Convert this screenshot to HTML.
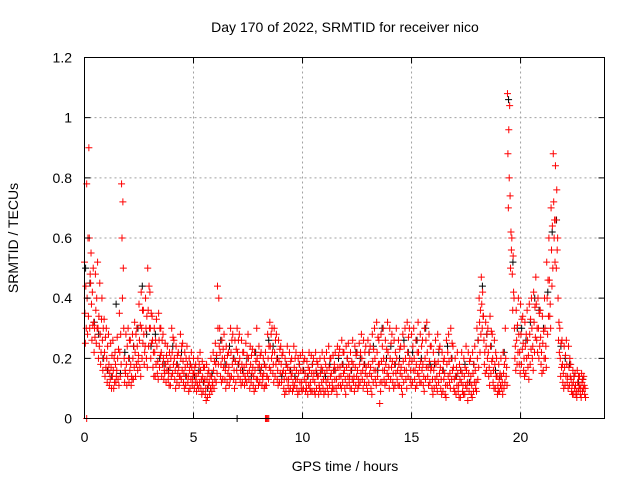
<!DOCTYPE html>
<html><head><meta charset="utf-8"><style>
body{margin:0;background:#fff}
svg text{font-family:"Liberation Sans",sans-serif;font-size:14px;fill:#000}
</style></head><body>
<svg id="chart" width="640" height="480" viewBox="0 0 640 480" xmlns="http://www.w3.org/2000/svg">
<rect width="640" height="480" fill="#fff"/>
<g id="grid"></g>
<g id="marks"></g>
<rect x="84.5" y="57.5" width="520" height="361" fill="none" stroke="#000" stroke-width="1"/>
<g id="ticks"></g>
<text x="345" y="32" text-anchor="middle">Day 170 of 2022, SRMTID for receiver nico</text>
<text x="345" y="471" text-anchor="middle">GPS time / hours</text>
<text x="18" y="238" text-anchor="middle" transform="rotate(-90 18 238)">SRMTID / TECUs</text>
</svg>
<script>
const xTicks=[0,5,10,15,20];
const yTicks=[0,0.2,0.4,0.6,0.8,1,1.2];
const yTickLabels=["0","0.2","0.4","0.6","0.8","1","1.2"];
const tStart=0, tStep=0.1, tStepBlack=0.2;
const redA=[.52,.78,.90,.55,.50,.48,.52,.45,.40,.33,.30,.28,.25,.26,.22,.27,.35,.78,.30,.28,.30,.26,.28,.32,.30,.38,.42,.36,.40,.50,.42,.34,.30,.33,.35,.30,.28,.25,.24,.22,.30,.26,.24,.22,.28,.25,.22,.24,.20,.22,.20,.18,.20,.22,.19,.17,.18,.16,.20,.22,.25,.44,.30,.26,.28,.24,.22,.30,.28,.26,.30,.28,.26,.22,.25,.28,.24,.23,.22,.30,.24,.22,.20,.22,.28,.32,.30,.30,.28,.26,.24,.22,.20,.24,.22,.20,.24,.22,.20,.21,.22,.20,.19,.22,.21,.20,.22,.18,.20,.22,.20,.22,.24,.20,.21,.22,.24,.23,.26,.22,.24,.25,.22,.26,.24,.22,.25,.28,.26,.24,.26,.24,.28,.30,.32,.26,.28,.30,.26,.32,.30,.28,.26,.30,.26,.24,.28,.30,.32,.30,.28,.30,.26,.32,.28,.26,.30,.32,.28,.24,.22,.26,.28,.24,.22,.20,.26,.28,.30,.24,.20,.22,.18,.22,.20,.24,.22,.20,.22,.24,.30,.40,.47,.34,.32,.30,.34,.28,.26,.20,.18,.20,.22,.30,1.08,1.04,.60,.40,.36,.40,.38,.34,.32,.36,.38,.40,.42,.47,.40,.36,.34,.40,.52,.60,.70,.88,.84,.60,.30,.26,.24,.26,.24,.18,.16,.15,.16,.14,.15,.14];
const redB=[.35,.40,.60,.38,.32,.36,.30,.28,.26,.22,.20,.18,.17,.16,.18,.20,.22,.60,.20,.18,.20,.18,.20,.22,.24,.26,.30,.28,.30,.36,.30,.26,.22,.24,.26,.22,.20,.18,.19,.17,.22,.20,.18,.17,.20,.19,.17,.18,.16,.17,.15,.14,.15,.16,.14,.13,.13,.12,.14,.16,.18,.30,.22,.20,.20,.18,.17,.22,.20,.19,.22,.20,.18,.17,.18,.20,.18,.17,.16,.20,.18,.17,.15,.17,.20,.24,.22,.22,.20,.19,.18,.16,.15,.17,.16,.15,.17,.16,.15,.16,.16,.15,.14,.16,.15,.15,.16,.14,.15,.16,.15,.16,.17,.15,.16,.16,.17,.17,.18,.16,.17,.18,.16,.18,.17,.16,.18,.20,.18,.17,.18,.17,.19,.20,.22,.18,.19,.20,.18,.22,.20,.19,.18,.20,.18,.17,.19,.20,.22,.20,.19,.20,.18,.22,.19,.18,.20,.22,.19,.17,.16,.18,.19,.17,.16,.15,.18,.19,.20,.17,.14,.15,.13,.15,.14,.16,.15,.14,.15,.16,.20,.32,.38,.26,.24,.22,.24,.20,.18,.14,.13,.14,.15,.20,.88,.74,.48,.30,.26,.28,.28,.25,.24,.26,.28,.30,.32,.38,.30,.27,.25,.30,.40,.46,.56,.72,.66,.40,.20,.18,.17,.18,.17,.13,.12,.11,.12,.11,.12,.11];
const redC=[.25,.28,.30,.26,.22,.25,.20,.18,.16,.14,.12,.11,.10,.10,.12,.13,.14,.40,.12,.11,.12,.11,.13,.14,.16,.17,.20,.18,.20,.24,.20,.17,.14,.15,.17,.14,.13,.12,.13,.11,.15,.13,.12,.11,.13,.12,.11,.12,.10,.11,.10,.09,.10,.10,.09,.08,.07,.08,.09,.10,.12,.18,.14,.13,.13,.12,.11,.14,.13,.12,.14,.13,.12,.11,.12,.13,.12,.11,.10,.13,.12,.11,.10,.11,.13,.16,.15,.14,.13,.12,.12,.10,.09,.11,.10,.09,.11,.10,.09,.10,.10,.09,.08,.10,.09,.09,.10,.08,.09,.10,.09,.10,.11,.09,.10,.10,.11,.11,.12,.10,.11,.12,.10,.12,.11,.10,.12,.13,.12,.11,.12,.10,.12,.13,.14,.05,.12,.13,.12,.14,.13,.12,.11,.13,.11,.10,.12,.13,.14,.13,.12,.13,.11,.14,.12,.11,.13,.14,.12,.10,.10,.11,.12,.10,.09,.08,.11,.12,.13,.10,.08,.09,.07,.09,.08,.10,.09,.08,.09,.10,.13,.22,.30,.18,.16,.14,.15,.12,.10,.08,.09,.10,.10,.14,.70,.50,.36,.20,.18,.18,.18,.16,.15,.17,.18,.20,.22,.26,.20,.18,.16,.20,.28,.34,.44,.60,.50,.26,.14,.12,.11,.12,.11,.09,.08,.08,.09,.08,.09,.08];
const redD=[.44,.60,.48,.42,.30,.40,.34,.22,.30,.27,.24,.15,.21,.20,.14,.23,.28,.72,.16,.24,.26,.14,.24,.28,.19,.31,.36,.22,.34,.44,.35,.22,.26,.19,.30,.26,.16,.21,.15,.20,.27,.16,.21,.14,.24,.15,.20,.14,.18,.13,.17,.12,.18,.13,.17,.10,.15,.14,.11,.19,.21,.40,.18,.23,.16,.21,.14,.26,.16,.23,.26,.16,.22,.14,.21,.16,.21,.14,.19,.17,.21,.14,.18,.14,.24,.28,.18,.26,.16,.23,.21,.13,.18,.13,.19,.12,.20,.13,.18,.12,.19,.12,.17,.12,.18,.12,.19,.11,.17,.13,.18,.13,.20,.12,.18,.13,.21,.14,.22,.13,.20,.14,.19,.14,.21,.13,.22,.16,.22,.14,.22,.14,.23,.16,.27,.12,.24,.16,.23,.17,.25,.15,.22,.16,.23,.14,.24,.16,.27,.16,.24,.16,.22,.17,.24,.14,.26,.17,.24,.13,.19,.14,.23,.13,.19,.11,.22,.15,.25,.13,.17,.11,.16,.11,.17,.12,.19,.11,.18,.12,.26,.36,.42,.22,.28,.17,.29,.16,.22,.11,.15,.12,.18,.17,.96,.62,.54,.24,.31,.22,.33,.20,.28,.21,.33,.24,.37,.30,.35,.22,.29,.24,.46,.38,.64,.66,.76,.32,.25,.15,.21,.14,.20,.11,.14,.09,.14,.10,.13,.10];
const redE=[.30,.34,.45,.31,.27,.30,.24,.33,.20,.17,.16,.13,.14,.12,.16,.11,.18,.50,.15,.14,.16,.13,.17,.18,.21,.14,.25,.24,.17,.30,.25,.14,.18,.13,.21,.18,.15,.16,.11,.14,.18,.10,.15,.14,.16,.10,.14,.09,.13,.15,.12,.11,.12,.08,.12,.06,.11,.10,.12,.13,.15,.24,.12,.17,.10,.15,.13,.18,.10,.16,.18,.11,.15,.13,.15,.10,.15,.09,.13,.11,.15,.13,.11,.14,.17,.20,.12,.18,.11,.15,.15,.08,.13,.09,.14,.10,.13,.08,.12,.09,.13,.10,.11,.09,.13,.08,.14,.10,.12,.08,.12,.08,.14,.10,.13,.08,.14,.10,.15,.08,.14,.10,.13,.09,.14,.11,.15,.10,.15,.09,.15,.08,.16,.11,.18,.09,.16,.11,.15,.10,.17,.10,.15,.11,.15,.08,.16,.10,.18,.11,.16,.10,.15,.12,.16,.09,.17,.11,.16,.08,.13,.09,.15,.08,.13,.07,.14,.10,.16,.09,.11,.07,.12,.08,.11,.06,.12,.07,.12,.09,.17,.28,.34,.15,.20,.11,.19,.10,.14,.09,.11,.08,.12,.11,.80,.56,.42,.16,.22,.15,.23,.14,.20,.13,.23,.16,.27,.22,.24,.15,.20,.17,.34,.30,.50,.52,.56,.22,.17,.10,.14,.10,.14,.08,.10,.07,.10,.07,.10,.07];
const black=[.50,.45,.32,.28,.20,.16,.14,.38,.15,.22,.20,.24,.30,.44,.28,.24,.28,.20,.18,.16,.24,.18,.22,.14,.18,.14,.16,.12,.10,.15,.20,.26,.18,.24,.20,.18,.16,.20,.14,.22,.16,.18,.26,.24,.20,.14,.18,.16,.14,.18,.16,.14,.18,.15,.16,.14,.18,.16,.20,.18,.20,.16,.22,.20,.18,.22,.24,.16,.30,.20,.24,.18,.20,.26,.22,.22,.26,.20,.30,.18,.18,.22,.16,.24,.20,.14,.16,.18,.12,.18,.26,.44,.28,.24,.16,.14,.22,1.06,.52,.30,.30,.26,.32,.40,.36,.30,.42,.62,.66,.24,.20,.18,.14,.12,.13];
const zeroRedTimes=[0.1,8.3,8.35,8.4,8.45];
const zeroBlackTimes=[7.0];

const X0=84.5,X1=604.5,Y0=418.5,Y1=57.5,XMAX=23.85,YMAX=1.2;
const xs=t=>X0+(t/XMAX)*(X1-X0);
const ys=v=>Y0-(v/YMAX)*(Y0-Y1);
const NS="http://www.w3.org/2000/svg";
const grid=document.getElementById('grid'),ticks=document.getElementById('ticks'),marks=document.getElementById('marks');
function mk(tag,attrs,parent){const e=document.createElementNS(NS,tag);for(const k in attrs)e.setAttribute(k,attrs[k]);parent.appendChild(e);return e;}
xTicks.forEach(t=>{const x=xs(t);
 if(t>0){const g=mk('line',{x1:x,x2:x,y1:Y0,y2:Y1,stroke:'#a0a0a0','stroke-dasharray':'2,3'},grid);
 
 }
 const a=mk('path',{d:`M${x},${Y0}v-6M${x},${Y1}v6`,stroke:'#000'},ticks);
 
 
 const l=mk('text',{x:x,y:442,'text-anchor':'middle'},ticks);l.textContent=String(t);
 
 
});
yTicks.forEach((v,i)=>{const y=ys(v);
 if(v>0&&v<YMAX){const g=mk('line',{x1:X0,x2:X1,y1:y,y2:y,stroke:'#a0a0a0','stroke-dasharray':'2,3'},grid);
 
 }
 const a=mk('path',{d:`M${X0},${y}h6M${X1},${y}h-6`,stroke:'#000'},ticks);
 
 
 const l=mk('text',{x:72,y:y+5,'text-anchor':'end'},ticks);l.textContent=yTickLabels[i];
 
 
});
function plus(t,v,color,name){const x=xs(t),y=ys(v);
 const p=mk('path',{d:`M${x-3.5},${y}h7M${x},${y-3.5}v7`,stroke:color,'stroke-width':1},marks);
 
 }
black.forEach((v,i)=>plus(tStart+i*tStepBlack+0.05,v,'#000','black-point'));
zeroBlackTimes.forEach(t=>plus(t,0,'#000','black-point'));
[redA,redB,redC,redD,redE].forEach((arr,k)=>arr.forEach((v,i)=>plus(tStart+i*tStep+k*0.02,v,'#f00','red-point')));
zeroRedTimes.forEach(t=>plus(t,0,'#f00','red-point'));
</script>
</body></html>
